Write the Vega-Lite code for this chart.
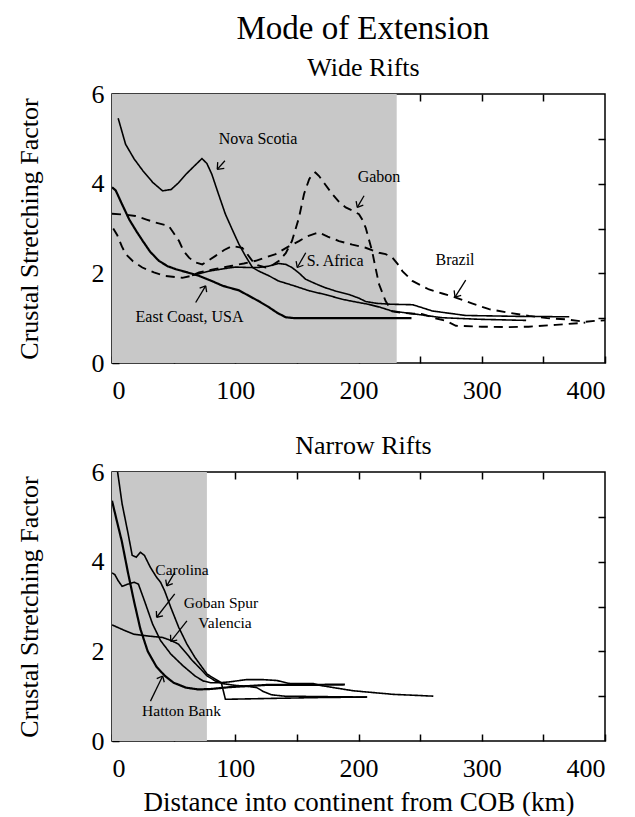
{
  "$schema": "https://vega.github.io/schema/vega-lite/v6.json",
  "padding": {"left": 15, "top": 13, "right": 10, "bottom": 0},
  "background": "white",
  "title": {"text": "Mode of Extension", "fontSize": 33, "font": "Liberation Serif", "fontWeight": "normal", "color": "black", "anchor": "middle", "offset": 8, "dx": 52},
  "config": {
    "view": {"stroke": "black", "strokeWidth": 1.5},
    "title": {"font": "Liberation Serif", "fontWeight": "normal", "color": "black"},
    "axis": {"labelFont": "Liberation Serif", "labelFontSize": 26, "labelColor": "black", "titleFont": "Liberation Serif", "titleFontWeight": "normal", "titleColor": "black", "titleFontSize": 26, "tickColor": "black", "tickWidth": 1.5, "tickSize": -7, "domain": false, "grid": false, "labelPadding": 21}
  },
  "datasets": {
    "shadeW": [{"x0": 0, "x1": 231, "y0": 0, "y1": 6}],
    "shadeN": [{"x0": 0, "x1": 77, "y0": 0, "y1": 6}],
    "wide": [
      {"s": "Nova Scotia", "st": "thin", "x": 5, "y": 5.46}, {"s": "Nova Scotia", "st": "thin", "x": 11, "y": 4.88}, {"s": "Nova Scotia", "st": "thin", "x": 18, "y": 4.55}, {"s": "Nova Scotia", "st": "thin", "x": 25, "y": 4.29}, {"s": "Nova Scotia", "st": "thin", "x": 33, "y": 4.03}, {"s": "Nova Scotia", "st": "thin", "x": 41, "y": 3.84}, {"s": "Nova Scotia", "st": "thin", "x": 48, "y": 3.87}, {"s": "Nova Scotia", "st": "thin", "x": 54, "y": 4.02}, {"s": "Nova Scotia", "st": "thin", "x": 60, "y": 4.21}, {"s": "Nova Scotia", "st": "thin", "x": 67, "y": 4.4}, {"s": "Nova Scotia", "st": "thin", "x": 73, "y": 4.56}, {"s": "Nova Scotia", "st": "thin", "x": 77, "y": 4.45}, {"s": "Nova Scotia", "st": "thin", "x": 81, "y": 4.21}, {"s": "Nova Scotia", "st": "thin", "x": 86, "y": 3.8}, {"s": "Nova Scotia", "st": "thin", "x": 92, "y": 3.32}, {"s": "Nova Scotia", "st": "thin", "x": 98, "y": 2.95}, {"s": "Nova Scotia", "st": "thin", "x": 103, "y": 2.65}, {"s": "Nova Scotia", "st": "thin", "x": 108, "y": 2.4}, {"s": "Nova Scotia", "st": "thin", "x": 114, "y": 2.13}, {"s": "Nova Scotia", "st": "thin", "x": 119, "y": 2.05}, {"s": "Nova Scotia", "st": "thin", "x": 127, "y": 1.95}, {"s": "Nova Scotia", "st": "thin", "x": 135, "y": 1.83}, {"s": "Nova Scotia", "st": "thin", "x": 148, "y": 1.72}, {"s": "Nova Scotia", "st": "thin", "x": 160, "y": 1.61}, {"s": "Nova Scotia", "st": "thin", "x": 174, "y": 1.52}, {"s": "Nova Scotia", "st": "thin", "x": 187, "y": 1.42}, {"s": "Nova Scotia", "st": "thin", "x": 198, "y": 1.36}, {"s": "Nova Scotia", "st": "thin", "x": 208, "y": 1.31}, {"s": "Nova Scotia", "st": "thin", "x": 218, "y": 1.24}, {"s": "Nova Scotia", "st": "thin", "x": 227, "y": 1.16}, {"s": "Nova Scotia", "st": "thin", "x": 238, "y": 1.12}, {"s": "Nova Scotia", "st": "thin", "x": 249, "y": 1.08}, {"s": "Nova Scotia", "st": "thin", "x": 268, "y": 1.01}, {"s": "Nova Scotia", "st": "thin", "x": 298, "y": 0.975}, {"s": "Nova Scotia", "st": "thin", "x": 336, "y": 0.95},
      {"s": "S. Africa", "st": "thin", "x": 65, "y": 1.95}, {"s": "S. Africa", "st": "thin", "x": 79, "y": 2.05}, {"s": "S. Africa", "st": "thin", "x": 90, "y": 2.1}, {"s": "S. Africa", "st": "thin", "x": 100, "y": 2.14}, {"s": "S. Africa", "st": "thin", "x": 110, "y": 2.13}, {"s": "S. Africa", "st": "thin", "x": 119, "y": 2.13}, {"s": "S. Africa", "st": "thin", "x": 127, "y": 2.16}, {"s": "S. Africa", "st": "thin", "x": 135, "y": 2.22}, {"s": "S. Africa", "st": "thin", "x": 141, "y": 2.2}, {"s": "S. Africa", "st": "thin", "x": 146, "y": 2.13}, {"s": "S. Africa", "st": "thin", "x": 152, "y": 2.0}, {"s": "S. Africa", "st": "thin", "x": 157, "y": 1.87}, {"s": "S. Africa", "st": "thin", "x": 165, "y": 1.77}, {"s": "S. Africa", "st": "thin", "x": 173, "y": 1.68}, {"s": "S. Africa", "st": "thin", "x": 182, "y": 1.6}, {"s": "S. Africa", "st": "thin", "x": 192, "y": 1.53}, {"s": "S. Africa", "st": "thin", "x": 200, "y": 1.45}, {"s": "S. Africa", "st": "thin", "x": 206, "y": 1.37}, {"s": "S. Africa", "st": "thin", "x": 215, "y": 1.33}, {"s": "S. Africa", "st": "thin", "x": 227, "y": 1.31}, {"s": "S. Africa", "st": "thin", "x": 244, "y": 1.3}, {"s": "S. Africa", "st": "thin", "x": 260, "y": 1.16}, {"s": "S. Africa", "st": "thin", "x": 287, "y": 1.06}, {"s": "S. Africa", "st": "thin", "x": 330, "y": 1.04}, {"s": "S. Africa", "st": "thin", "x": 371, "y": 1.03},
      {"s": "East Coast, USA", "st": "thick", "x": 0, "y": 3.92}, {"s": "East Coast, USA", "st": "thick", "x": 3, "y": 3.85}, {"s": "East Coast, USA", "st": "thick", "x": 8, "y": 3.55}, {"s": "East Coast, USA", "st": "thick", "x": 14, "y": 3.2}, {"s": "East Coast, USA", "st": "thick", "x": 20, "y": 2.93}, {"s": "East Coast, USA", "st": "thick", "x": 25, "y": 2.72}, {"s": "East Coast, USA", "st": "thick", "x": 31, "y": 2.48}, {"s": "East Coast, USA", "st": "thick", "x": 38, "y": 2.28}, {"s": "East Coast, USA", "st": "thick", "x": 45, "y": 2.16}, {"s": "East Coast, USA", "st": "thick", "x": 52, "y": 2.09}, {"s": "East Coast, USA", "st": "thick", "x": 60, "y": 2.03}, {"s": "East Coast, USA", "st": "thick", "x": 70, "y": 1.95}, {"s": "East Coast, USA", "st": "thick", "x": 80, "y": 1.84}, {"s": "East Coast, USA", "st": "thick", "x": 90, "y": 1.72}, {"s": "East Coast, USA", "st": "thick", "x": 103, "y": 1.62}, {"s": "East Coast, USA", "st": "thick", "x": 111, "y": 1.5}, {"s": "East Coast, USA", "st": "thick", "x": 119, "y": 1.38}, {"s": "East Coast, USA", "st": "thick", "x": 127, "y": 1.25}, {"s": "East Coast, USA", "st": "thick", "x": 134, "y": 1.12}, {"s": "East Coast, USA", "st": "thick", "x": 141, "y": 1.02}, {"s": "East Coast, USA", "st": "thick", "x": 148, "y": 1.0}, {"s": "East Coast, USA", "st": "thick", "x": 243, "y": 1.0},
      {"s": "Gabon", "st": "dashed", "x": 0, "y": 3.33}, {"s": "Gabon", "st": "dashed", "x": 10, "y": 3.31}, {"s": "Gabon", "st": "dashed", "x": 19, "y": 3.28}, {"s": "Gabon", "st": "dashed", "x": 28, "y": 3.2}, {"s": "Gabon", "st": "dashed", "x": 35.5, "y": 3.13}, {"s": "Gabon", "st": "dashed", "x": 46, "y": 3.06}, {"s": "Gabon", "st": "dashed", "x": 50, "y": 2.9}, {"s": "Gabon", "st": "dashed", "x": 54.4, "y": 2.72}, {"s": "Gabon", "st": "dashed", "x": 58, "y": 2.5}, {"s": "Gabon", "st": "dashed", "x": 62.5, "y": 2.35}, {"s": "Gabon", "st": "dashed", "x": 67, "y": 2.25}, {"s": "Gabon", "st": "dashed", "x": 73.3, "y": 2.2}, {"s": "Gabon", "st": "dashed", "x": 78, "y": 2.28}, {"s": "Gabon", "st": "dashed", "x": 84, "y": 2.39}, {"s": "Gabon", "st": "dashed", "x": 91, "y": 2.52}, {"s": "Gabon", "st": "dashed", "x": 97.6, "y": 2.61}, {"s": "Gabon", "st": "dashed", "x": 105.7, "y": 2.57}, {"s": "Gabon", "st": "dashed", "x": 110, "y": 2.42}, {"s": "Gabon", "st": "dashed", "x": 113.8, "y": 2.28}, {"s": "Gabon", "st": "dashed", "x": 118, "y": 2.18}, {"s": "Gabon", "st": "dashed", "x": 124.7, "y": 2.13}, {"s": "Gabon", "st": "dashed", "x": 130, "y": 2.18}, {"s": "Gabon", "st": "dashed", "x": 135.5, "y": 2.28}, {"s": "Gabon", "st": "dashed", "x": 141, "y": 2.45}, {"s": "Gabon", "st": "dashed", "x": 146, "y": 2.72}, {"s": "Gabon", "st": "dashed", "x": 151.7, "y": 3.24}, {"s": "Gabon", "st": "dashed", "x": 155.8, "y": 3.77}, {"s": "Gabon", "st": "dashed", "x": 160, "y": 4.1}, {"s": "Gabon", "st": "dashed", "x": 162.5, "y": 4.21}, {"s": "Gabon", "st": "dashed", "x": 165, "y": 4.25}, {"s": "Gabon", "st": "dashed", "x": 168, "y": 4.17}, {"s": "Gabon", "st": "dashed", "x": 173, "y": 3.98}, {"s": "Gabon", "st": "dashed", "x": 178.7, "y": 3.77}, {"s": "Gabon", "st": "dashed", "x": 184, "y": 3.6}, {"s": "Gabon", "st": "dashed", "x": 189.6, "y": 3.47}, {"s": "Gabon", "st": "dashed", "x": 195, "y": 3.4}, {"s": "Gabon", "st": "dashed", "x": 200.4, "y": 3.32}, {"s": "Gabon", "st": "dashed", "x": 203, "y": 3.2}, {"s": "Gabon", "st": "dashed", "x": 205.8, "y": 3.02}, {"s": "Gabon", "st": "dashed", "x": 208, "y": 2.8}, {"s": "Gabon", "st": "dashed", "x": 211, "y": 2.5}, {"s": "Gabon", "st": "dashed", "x": 214, "y": 2.1}, {"s": "Gabon", "st": "dashed", "x": 216.6, "y": 1.76}, {"s": "Gabon", "st": "dashed", "x": 222, "y": 1.38}, {"s": "Gabon", "st": "dashed", "x": 227.4, "y": 1.15}, {"s": "Gabon", "st": "dashed", "x": 235, "y": 1.12}, {"s": "Gabon", "st": "dashed", "x": 245, "y": 1.1}, {"s": "Gabon", "st": "dashed", "x": 252, "y": 1.09}, {"s": "Gabon", "st": "dashed", "x": 262, "y": 1.0}, {"s": "Gabon", "st": "dashed", "x": 271, "y": 0.94}, {"s": "Gabon", "st": "dashed", "x": 279, "y": 0.83}, {"s": "Gabon", "st": "dashed", "x": 300, "y": 0.81}, {"s": "Gabon", "st": "dashed", "x": 320, "y": 0.8}, {"s": "Gabon", "st": "dashed", "x": 338, "y": 0.81}, {"s": "Gabon", "st": "dashed", "x": 360, "y": 0.85}, {"s": "Gabon", "st": "dashed", "x": 384, "y": 0.9},
      {"s": "Brazil", "st": "dashed", "x": 1, "y": 3.0}, {"s": "Brazil", "st": "dashed", "x": 4.3, "y": 2.85}, {"s": "Brazil", "st": "dashed", "x": 8, "y": 2.6}, {"s": "Brazil", "st": "dashed", "x": 11.1, "y": 2.43}, {"s": "Brazil", "st": "dashed", "x": 17, "y": 2.27}, {"s": "Brazil", "st": "dashed", "x": 24.6, "y": 2.13}, {"s": "Brazil", "st": "dashed", "x": 34, "y": 2.02}, {"s": "Brazil", "st": "dashed", "x": 43.6, "y": 1.94}, {"s": "Brazil", "st": "dashed", "x": 57, "y": 1.9}, {"s": "Brazil", "st": "dashed", "x": 64, "y": 1.94}, {"s": "Brazil", "st": "dashed", "x": 70.6, "y": 2.02}, {"s": "Brazil", "st": "dashed", "x": 84, "y": 2.1}, {"s": "Brazil", "st": "dashed", "x": 97.6, "y": 2.17}, {"s": "Brazil", "st": "dashed", "x": 107, "y": 2.22}, {"s": "Brazil", "st": "dashed", "x": 116.6, "y": 2.28}, {"s": "Brazil", "st": "dashed", "x": 124, "y": 2.35}, {"s": "Brazil", "st": "dashed", "x": 132.8, "y": 2.43}, {"s": "Brazil", "st": "dashed", "x": 142, "y": 2.58}, {"s": "Brazil", "st": "dashed", "x": 151.7, "y": 2.72}, {"s": "Brazil", "st": "dashed", "x": 158, "y": 2.82}, {"s": "Brazil", "st": "dashed", "x": 165.3, "y": 2.89}, {"s": "Brazil", "st": "dashed", "x": 168, "y": 2.91}, {"s": "Brazil", "st": "dashed", "x": 175, "y": 2.82}, {"s": "Brazil", "st": "dashed", "x": 184.2, "y": 2.72}, {"s": "Brazil", "st": "dashed", "x": 195, "y": 2.64}, {"s": "Brazil", "st": "dashed", "x": 205.8, "y": 2.57}, {"s": "Brazil", "st": "dashed", "x": 216.6, "y": 2.46}, {"s": "Brazil", "st": "dashed", "x": 222, "y": 2.43}, {"s": "Brazil", "st": "dashed", "x": 227.5, "y": 2.35}, {"s": "Brazil", "st": "dashed", "x": 232, "y": 2.2}, {"s": "Brazil", "st": "dashed", "x": 235.6, "y": 2.05}, {"s": "Brazil", "st": "dashed", "x": 243.7, "y": 1.83}, {"s": "Brazil", "st": "dashed", "x": 257.2, "y": 1.64}, {"s": "Brazil", "st": "dashed", "x": 268, "y": 1.55}, {"s": "Brazil", "st": "dashed", "x": 278.9, "y": 1.46}, {"s": "Brazil", "st": "dashed", "x": 292, "y": 1.33}, {"s": "Brazil", "st": "dashed", "x": 306, "y": 1.2}, {"s": "Brazil", "st": "dashed", "x": 322, "y": 1.12}, {"s": "Brazil", "st": "dashed", "x": 338.4, "y": 1.05}, {"s": "Brazil", "st": "dashed", "x": 353, "y": 1.0}, {"s": "Brazil", "st": "dashed", "x": 368, "y": 0.975}, {"s": "Brazil", "st": "dashed", "x": 384, "y": 0.92}, {"s": "Brazil", "st": "dashed", "x": 392, "y": 0.94}, {"s": "Brazil", "st": "dashed", "x": 400, "y": 0.95}
    ],
    "narrow": [
      {"s": "Hatton Bank", "st": "thick", "x": 0, "y": 5.36}, {"s": "Hatton Bank", "st": "thick", "x": 4, "y": 4.9}, {"s": "Hatton Bank", "st": "thick", "x": 8, "y": 4.45}, {"s": "Hatton Bank", "st": "thick", "x": 13, "y": 3.75}, {"s": "Hatton Bank", "st": "thick", "x": 18, "y": 3.1}, {"s": "Hatton Bank", "st": "thick", "x": 23, "y": 2.5}, {"s": "Hatton Bank", "st": "thick", "x": 29, "y": 2.0}, {"s": "Hatton Bank", "st": "thick", "x": 36, "y": 1.66}, {"s": "Hatton Bank", "st": "thick", "x": 43, "y": 1.45}, {"s": "Hatton Bank", "st": "thick", "x": 50, "y": 1.3}, {"s": "Hatton Bank", "st": "thick", "x": 60, "y": 1.19}, {"s": "Hatton Bank", "st": "thick", "x": 70, "y": 1.15}, {"s": "Hatton Bank", "st": "thick", "x": 80, "y": 1.16}, {"s": "Hatton Bank", "st": "thick", "x": 95, "y": 1.2}, {"s": "Hatton Bank", "st": "thick", "x": 125, "y": 1.25}, {"s": "Hatton Bank", "st": "thick", "x": 155, "y": 1.25}, {"s": "Hatton Bank", "st": "thick", "x": 189, "y": 1.26},
      {"s": "Carolina", "st": "thin", "x": 2.5, "y": 6.3}, {"s": "Carolina", "st": "thin", "x": 4.3, "y": 6.05}, {"s": "Carolina", "st": "thin", "x": 8.2, "y": 5.29}, {"s": "Carolina", "st": "thin", "x": 13.1, "y": 4.62}, {"s": "Carolina", "st": "thin", "x": 16.4, "y": 4.14}, {"s": "Carolina", "st": "thin", "x": 19.7, "y": 4.1}, {"s": "Carolina", "st": "thin", "x": 23, "y": 4.21}, {"s": "Carolina", "st": "thin", "x": 26.3, "y": 4.14}, {"s": "Carolina", "st": "thin", "x": 31.2, "y": 3.87}, {"s": "Carolina", "st": "thin", "x": 36.2, "y": 3.65}, {"s": "Carolina", "st": "thin", "x": 39.4, "y": 3.54}, {"s": "Carolina", "st": "thin", "x": 42.7, "y": 3.35}, {"s": "Carolina", "st": "thin", "x": 47.7, "y": 2.98}, {"s": "Carolina", "st": "thin", "x": 54.2, "y": 2.53}, {"s": "Carolina", "st": "thin", "x": 60.8, "y": 2.16}, {"s": "Carolina", "st": "thin", "x": 67.4, "y": 1.86}, {"s": "Carolina", "st": "thin", "x": 77.2, "y": 1.49}, {"s": "Carolina", "st": "thin", "x": 83.8, "y": 1.38}, {"s": "Carolina", "st": "thin", "x": 88.7, "y": 1.3}, {"s": "Carolina", "st": "thin", "x": 92, "y": 0.93}, {"s": "Carolina", "st": "thin", "x": 130, "y": 0.95}, {"s": "Carolina", "st": "thin", "x": 170, "y": 0.97}, {"s": "Carolina", "st": "thin", "x": 207, "y": 0.98},
      {"s": "Goban Spur", "st": "thin", "x": 0, "y": 3.75}, {"s": "Goban Spur", "st": "thin", "x": 2.3, "y": 3.71}, {"s": "Goban Spur", "st": "thin", "x": 4.9, "y": 3.58}, {"s": "Goban Spur", "st": "thin", "x": 8.2, "y": 3.45}, {"s": "Goban Spur", "st": "thin", "x": 13.1, "y": 3.5}, {"s": "Goban Spur", "st": "thin", "x": 18, "y": 3.54}, {"s": "Goban Spur", "st": "thin", "x": 21.4, "y": 3.5}, {"s": "Goban Spur", "st": "thin", "x": 26.3, "y": 3.13}, {"s": "Goban Spur", "st": "thin", "x": 32.9, "y": 2.61}, {"s": "Goban Spur", "st": "thin", "x": 39.4, "y": 2.24}, {"s": "Goban Spur", "st": "thin", "x": 47.7, "y": 1.94}, {"s": "Goban Spur", "st": "thin", "x": 57.5, "y": 1.68}, {"s": "Goban Spur", "st": "thin", "x": 67.4, "y": 1.45}, {"s": "Goban Spur", "st": "thin", "x": 73.9, "y": 1.34}, {"s": "Goban Spur", "st": "thin", "x": 80, "y": 1.3}, {"s": "Goban Spur", "st": "thin", "x": 88, "y": 1.3}, {"s": "Goban Spur", "st": "thin", "x": 95.7, "y": 1.32}, {"s": "Goban Spur", "st": "thin", "x": 109.3, "y": 1.37}, {"s": "Goban Spur", "st": "thin", "x": 122, "y": 1.37}, {"s": "Goban Spur", "st": "thin", "x": 133.6, "y": 1.35}, {"s": "Goban Spur", "st": "thin", "x": 144.4, "y": 1.28}, {"s": "Goban Spur", "st": "thin", "x": 163.4, "y": 1.28}, {"s": "Goban Spur", "st": "thin", "x": 168.8, "y": 1.24}, {"s": "Goban Spur", "st": "thin", "x": 180, "y": 1.19}, {"s": "Goban Spur", "st": "thin", "x": 195.8, "y": 1.12}, {"s": "Goban Spur", "st": "thin", "x": 212, "y": 1.08}, {"s": "Goban Spur", "st": "thin", "x": 228.3, "y": 1.04}, {"s": "Goban Spur", "st": "thin", "x": 245, "y": 1.02}, {"s": "Goban Spur", "st": "thin", "x": 260.7, "y": 1.0},
      {"s": "Valencia", "st": "thin", "x": 0, "y": 2.59}, {"s": "Valencia", "st": "thin", "x": 9, "y": 2.48}, {"s": "Valencia", "st": "thin", "x": 18, "y": 2.38}, {"s": "Valencia", "st": "thin", "x": 30, "y": 2.34}, {"s": "Valencia", "st": "thin", "x": 41, "y": 2.31}, {"s": "Valencia", "st": "thin", "x": 48, "y": 2.24}, {"s": "Valencia", "st": "thin", "x": 54, "y": 2.16}, {"s": "Valencia", "st": "thin", "x": 60.8, "y": 1.94}, {"s": "Valencia", "st": "thin", "x": 65, "y": 1.8}, {"s": "Valencia", "st": "thin", "x": 70.7, "y": 1.64}, {"s": "Valencia", "st": "thin", "x": 77.2, "y": 1.45}, {"s": "Valencia", "st": "thin", "x": 83.8, "y": 1.34}, {"s": "Valencia", "st": "thin", "x": 90, "y": 1.28}, {"s": "Valencia", "st": "thin", "x": 100, "y": 1.24}, {"s": "Valencia", "st": "thin", "x": 110, "y": 1.22}, {"s": "Valencia", "st": "thin", "x": 117.4, "y": 1.19}, {"s": "Valencia", "st": "thin", "x": 123, "y": 1.1}, {"s": "Valencia", "st": "thin", "x": 129.6, "y": 1.03}, {"s": "Valencia", "st": "thin", "x": 140, "y": 1.0}, {"s": "Valencia", "st": "thin", "x": 170, "y": 0.99}, {"s": "Valencia", "st": "thin", "x": 207, "y": 0.98}
    ],
    "wideArrows": [
      {"x": 91.6, "y": 4.51, "x2": 85.4, "y2": 4.32}, {"x": 85.4, "y": 4.32, "x2": 91.1, "y2": 4.34}, {"x": 85.4, "y": 4.32, "x2": 85.8, "y2": 4.48},
      {"x": 204.5, "y": 3.73, "x2": 199.0, "y2": 3.47}, {"x": 199.0, "y": 3.47, "x2": 203.9, "y2": 3.52}, {"x": 199.0, "y": 3.47, "x2": 198.1, "y2": 3.61},
      {"x": 157.2, "y": 2.46, "x2": 150.3, "y2": 2.13}, {"x": 150.3, "y": 2.13, "x2": 155.3, "y2": 2.18}, {"x": 150.3, "y": 2.13, "x2": 149.4, "y2": 2.27},
      {"x": 67.9, "y": 1.35, "x2": 76.0, "y2": 1.72}, {"x": 76.0, "y": 1.72, "x2": 71.1, "y2": 1.67}, {"x": 76.0, "y": 1.72, "x2": 76.8, "y2": 1.58},
      {"x": 287.0, "y": 1.85, "x2": 278.3, "y2": 1.47}, {"x": 278.3, "y": 1.47, "x2": 283.3, "y2": 1.51}, {"x": 278.3, "y": 1.47, "x2": 277.6, "y2": 1.62}
    ],
    "narrowArrows": [
      {"x": 50.9, "y": 3.76, "x2": 44.4, "y2": 3.46}, {"x": 44.4, "y": 3.46, "x2": 49.3, "y2": 3.51}, {"x": 44.4, "y": 3.46, "x2": 43.6, "y2": 3.6},
      {"x": 50.9, "y": 3.28, "x2": 36.2, "y2": 2.76}, {"x": 36.2, "y": 2.76, "x2": 41.4, "y2": 2.79}, {"x": 36.2, "y": 2.76, "x2": 36.0, "y2": 2.9},
      {"x": 60.8, "y": 2.68, "x2": 47.7, "y2": 2.22}, {"x": 47.7, "y": 2.22, "x2": 52.9, "y2": 2.25}, {"x": 47.7, "y": 2.22, "x2": 47.5, "y2": 2.37},
      {"x": 31.2, "y": 0.89, "x2": 41.1, "y2": 1.45}, {"x": 41.1, "y": 1.45, "x2": 36.3, "y2": 1.39}, {"x": 41.1, "y": 1.45, "x2": 42.4, "y2": 1.31}
    ],
    "wideLabels": [
      {"label": "Nova Scotia", "x": 118.5, "y": 5.0}, {"label": "Gabon", "x": 216.6, "y": 4.15}, {"label": "S. Africa", "x": 181, "y": 2.28}, {"label": "East Coast, USA", "x": 62.9, "y": 1.03}, {"label": "Brazil", "x": 278.3, "y": 2.3}
    ],
    "narrowLabels": [
      {"label": "Carolina", "x": 56.8, "y": 3.82}, {"label": "Goban Spur", "x": 88.4, "y": 3.08}, {"label": "Valencia", "x": 91.7, "y": 2.64}, {"label": "Hatton Bank", "x": 56.4, "y": 0.67}
    ]
  },
  "vconcat": [
    {
      "width": 493, "height": 269,
      "title": {"text": "Wide Rifts", "fontSize": 26, "offset": 0, "dx": 5},
      "layer": [
        {"data": {"name": "shadeW"}, "mark": {"type": "rect", "color": "#c8c8c8"},
         "encoding": {
           "x": {"field": "x0", "type": "quantitative", "scale": {"domain": [0, 400], "nice": false}, "axis": {"orient": "bottom", "values": [0, 50, 100, 150, 200, 250, 300, 350, 400], "labelExpr": "datum.value % 100 === 0 ? datum.label : ''", "title": null}},
           "x2": {"field": "x1"},
           "y": {"field": "y0", "type": "quantitative", "scale": {"domain": [0, 6], "nice": false}, "axis": {"orient": "left", "values": [0, 1, 2, 3, 4, 5, 6], "labelExpr": "datum.value % 2 === 0 ? datum.label : ''", "title": "Crustal Stretching Factor", "titlePadding": 49, "labelPadding": 15}},
           "y2": {"field": "y1"}
         }},
        {"data": {"name": "wide"}, "mark": {"type": "line", "clip": true, "color": "black"},
         "encoding": {
           "x": {"field": "x", "type": "quantitative", "axis": {"orient": "top", "values": [50, 100, 150, 200, 250, 300, 350], "labels": false, "title": null}},
           "y": {"field": "y", "type": "quantitative", "axis": {"orient": "right", "values": [1, 2, 3, 4, 5], "labels": false, "title": null}},
           "detail": {"field": "s"},
           "strokeWidth": {"field": "st", "type": "nominal", "scale": {"domain": ["thin", "dashed", "thick"], "range": [1.6, 2.2, 4.6]}, "legend": null},
           "strokeDash": {"field": "st", "type": "nominal", "scale": {"domain": ["thin", "dashed", "thick"], "range": [[1, 0], [9, 6], [1, 0]]}, "legend": null}
         }},
        {"data": {"name": "wideArrows"}, "mark": {"type": "rule", "color": "black", "strokeWidth": 1.3},
         "encoding": {"x": {"field": "x", "type": "quantitative", "axis": null}, "y": {"field": "y", "type": "quantitative", "axis": null}, "x2": {"field": "x2"}, "y2": {"field": "y2"}}},
        {"data": {"name": "wideLabels"}, "mark": {"type": "text", "font": "Liberation Serif", "fontSize": 16, "align": "center", "baseline": "middle", "color": "black"},
         "encoding": {"x": {"field": "x", "type": "quantitative", "axis": null}, "y": {"field": "y", "type": "quantitative", "axis": null}, "text": {"field": "label"}}}
      ],
      "resolve": {"axis": {"x": "independent", "y": "independent"}}
    },
    {
      "width": 493, "height": 269,
      "title": {"text": "Narrow Rifts", "fontSize": 26, "offset": 0, "dx": 5},
      "layer": [
        {"data": {"name": "shadeN"}, "mark": {"type": "rect", "color": "#c8c8c8"},
         "encoding": {
           "x": {"field": "x0", "type": "quantitative", "scale": {"domain": [0, 400], "nice": false}, "axis": {"orient": "bottom", "values": [0, 50, 100, 150, 200, 250, 300, 350, 400], "labelExpr": "datum.value % 100 === 0 ? datum.label : ''", "title": "Distance into continent from COB (km)", "titleFontSize": 27, "titlePadding": 8}},
           "x2": {"field": "x1"},
           "y": {"field": "y0", "type": "quantitative", "scale": {"domain": [0, 6], "nice": false}, "axis": {"orient": "left", "values": [0, 1, 2, 3, 4, 5, 6], "labelExpr": "datum.value % 2 === 0 ? datum.label : ''", "title": "Crustal Stretching Factor", "titlePadding": 49, "labelPadding": 15}},
           "y2": {"field": "y1"}
         }},
        {"data": {"name": "narrow"}, "mark": {"type": "line", "clip": true, "color": "black"},
         "encoding": {
           "x": {"field": "x", "type": "quantitative", "axis": {"orient": "top", "values": [50, 100, 150, 200, 250, 300, 350], "labels": false, "title": null}},
           "y": {"field": "y", "type": "quantitative", "axis": {"orient": "right", "values": [1, 2, 3, 4, 5], "labels": false, "title": null}},
           "detail": {"field": "s"},
           "strokeWidth": {"field": "st", "type": "nominal", "scale": {"domain": ["thin", "dashed", "thick"], "range": [1.6, 2.2, 4.6]}, "legend": null},
           "strokeDash": {"field": "st", "type": "nominal", "scale": {"domain": ["thin", "dashed", "thick"], "range": [[1, 0], [9, 6], [1, 0]]}, "legend": null}
         }},
        {"data": {"name": "narrowArrows"}, "mark": {"type": "rule", "color": "black", "strokeWidth": 1.3},
         "encoding": {"x": {"field": "x", "type": "quantitative", "axis": null}, "y": {"field": "y", "type": "quantitative", "axis": null}, "x2": {"field": "x2"}, "y2": {"field": "y2"}}},
        {"data": {"name": "narrowLabels"}, "mark": {"type": "text", "font": "Liberation Serif", "fontSize": 15.5, "align": "center", "baseline": "middle", "color": "black"},
         "encoding": {"x": {"field": "x", "type": "quantitative", "axis": null}, "y": {"field": "y", "type": "quantitative", "axis": null}, "text": {"field": "label"}}}
      ],
      "resolve": {"axis": {"x": "independent", "y": "independent"}}
    }
  ],
  "spacing": 28
}
